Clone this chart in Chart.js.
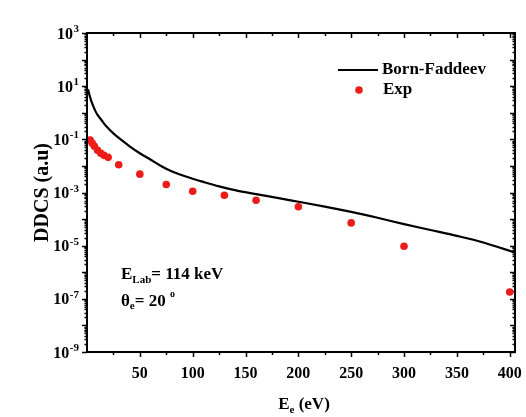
<!DOCTYPE html>
<html><head><meta charset="utf-8">
<script src="https://cdn.jsdelivr.net/npm/chart.js@4.4.1/dist/chart.umd.min.js"></script>
<style>html,body{margin:0;padding:0;background:#fff;} #wrap{width:526px;height:417px;}</style>
</head><body><div id="wrap"><canvas id="c" width="526" height="417"></canvas></div>
<script>
// Born-Faddeev theory curve
const bfEnergy = [1,2,3,4,5,6,8,10,12,14,17,20,24,28,34,40,50,60,70,80,90,100,110,125,140,160,180,200,225,250,275,300,325,350,375,405];
const bfDdcs = [7.6,5.2,3.8,2.8,2.2,1.74,1.15,0.83,0.65,0.51,0.355,0.263,0.182,0.132,0.085,0.056,0.030,0.0174,0.0100,0.0063,0.00447,0.00331,0.00251,0.0017,0.00123,0.00087,0.00063,0.00045,0.000295,0.000186,0.000112,0.0000646,0.0000389,0.0000234,0.0000132,0.0000055];
// Experimental points
const expEnergy = [3,5,7,10,13,16,20,30,50,75,100,130,160,200,250,300,400];
const expDdcs = [0.093,0.071,0.055,0.039,0.030,0.025,0.021,0.011,0.0049,0.0020,0.00112,0.00079,0.00051,0.00029,0.000072,0.0000095,0.00000018];
// Axis ticks
const xTickLabels = [50,100,150,200,250,300,350,400];
const xMinorStep = 25;
const yTickExponents = [3,1,-1,-3,-5,-7,-9];
const xRange = [0, 405];
const yRange = [1e-9, 1e3];

const FONT = '"Liberation Serif","Times New Roman",serif';
const RED = '#ee1b1b';

function toXY(xs, ys){ return xs.map((v,i)=>({x:v, y:ys[i]})); }

const decorPlugin = {
  id: 'decor',
  beforeDatasetsDraw(chart){
    const {ctx, chartArea:a, scales:{x,y}} = chart;
    ctx.save();
    ctx.strokeStyle = '#000';
    ctx.lineWidth = 1.5;
    for (let v = xMinorStep; v <= xRange[1]; v += xMinorStep) {
      const px = Math.round(x.getPixelForValue(v)) + 0.5;
      const len = (v % 50 === 0) ? 5 : 3;
      ctx.beginPath();
      ctx.moveTo(px, a.bottom); ctx.lineTo(px, a.bottom + len);
      ctx.moveTo(px, a.top); ctx.lineTo(px, a.top + len);
      ctx.stroke();
    }
    for (let e = -9; e <= 3; e++) {
      for (let m = 1; m <= 9; m++) {
        const v = m * Math.pow(10, e);
        if (v > yRange[1] * 1.0001) break;
        const py = Math.round(y.getPixelForValue(v)) + 0.5;
        const len = (m === 1) ? 5 : 2.5;
        ctx.beginPath();
        ctx.moveTo(a.left, py); ctx.lineTo(a.left - len, py);
        ctx.moveTo(a.right, py); ctx.lineTo(a.right - len, py);
        ctx.stroke();
      }
    }
    ctx.restore();
  },
  afterDatasetsDraw(chart){
    const {ctx, chartArea:a, scales:{x,y}} = chart;
    ctx.save();
    ctx.strokeStyle = '#000';
    ctx.lineWidth = 2;
    ctx.strokeRect(a.left, a.top, a.right - a.left, a.bottom - a.top);
    ctx.fillStyle = '#000';

    ctx.font = 'bold 16px ' + FONT;
    ctx.textAlign = 'center';
    ctx.textBaseline = 'middle';
    xTickLabels.forEach(v => ctx.fillText(String(v), x.getPixelForValue(v), 374));

    yTickExponents.forEach(e => {
      const py = y.getPixelForValue(Math.pow(10, e));
      const exp = (e < 0 ? '-' : '') + Math.abs(e);
      ctx.font = 'bold 11px ' + FONT;
      const we = ctx.measureText(exp).width;
      ctx.font = 'bold 16px ' + FONT;
      const wb = ctx.measureText('10').width;
      const right = a.left - 8;
      ctx.textAlign = 'left';
      ctx.textBaseline = 'alphabetic';
      ctx.fillText('10', right - we - wb - 0.5, py + 5.5);
      ctx.font = 'bold 11px ' + FONT;
      ctx.fillText(exp, right - we, py - 1);
    });

    ctx.textAlign = 'left';
    ctx.textBaseline = 'alphabetic';
    ctx.font = 'bold 17px ' + FONT;
    const wE = ctx.measureText('E').width;
    const wRest = ctx.measureText(' (eV)').width;
    ctx.font = 'bold 11px ' + FONT;
    const wSub = ctx.measureText('e').width;
    let tx = (a.left + a.right) / 2 + 3 - (wE + wSub + wRest) / 2;
    const tb = 409;
    ctx.font = 'bold 17px ' + FONT;
    ctx.fillText('E', tx, tb);
    ctx.font = 'bold 11px ' + FONT;
    ctx.fillText('e', tx + wE, tb + 4);
    ctx.font = 'bold 17px ' + FONT;
    ctx.fillText(' (eV)', tx + wE + wSub, tb);

    ctx.save();
    ctx.translate(48, (a.top + a.bottom) / 2);
    ctx.rotate(-Math.PI / 2);
    ctx.textAlign = 'center';
    ctx.textBaseline = 'alphabetic';
    ctx.font = 'bold 20px ' + FONT;
    ctx.fillText('DDCS (a.u)', 0, 0);
    ctx.restore();

    ctx.strokeStyle = '#000';
    ctx.lineWidth = 2.2;
    ctx.beginPath(); ctx.moveTo(338, 70); ctx.lineTo(378, 70); ctx.stroke();
    ctx.font = 'bold 17px ' + FONT;
    ctx.textAlign = 'left';
    ctx.textBaseline = 'middle';
    ctx.fillText('Born-Faddeev', 382, 70);
    ctx.fillStyle = RED;
    ctx.beginPath(); ctx.arc(359, 90, 3.8, 0, Math.PI * 2); ctx.fill();
    ctx.fillStyle = '#000';
    ctx.fillText('Exp', 383, 90);

    ctx.textBaseline = 'alphabetic';
    let ax = 121;
    ctx.font = 'bold 17px ' + FONT;
    ctx.fillText('E', ax, 279);
    ax += ctx.measureText('E').width;
    ctx.font = 'bold 11px ' + FONT;
    ctx.fillText('Lab', ax, 283);
    ax += ctx.measureText('Lab').width;
    ctx.font = 'bold 17px ' + FONT;
    ctx.fillText('= 114 keV', ax, 279);

    ax = 121;
    ctx.fillText('\u03B8', ax, 305.5);
    ax += ctx.measureText('\u03B8').width;
    ctx.font = 'bold 11px ' + FONT;
    ctx.fillText('e', ax, 309);
    ax += ctx.measureText('e').width;
    ctx.font = 'bold 17px ' + FONT;
    ctx.fillText('= 20 ', ax, 305.5);
    ax += ctx.measureText('= 20 ').width;
    ctx.font = 'bold 10px ' + FONT;
    ctx.fillText('o', ax, 297);
    ctx.restore();
  }
};

new Chart(document.getElementById('c'), {
  type: 'scatter',
  data: {
    datasets: [
      {
        label: 'Exp',
        data: toXY(expEnergy, expDdcs),
        showLine: false,
        pointRadius: 3.8,
        pointBackgroundColor: RED,
        pointBorderWidth: 0,
        pointBorderColor: RED,
        clip: false,
        order: 0
      },
      {
        label: 'Born-Faddeev',
        data: toXY(bfEnergy, bfDdcs),
        showLine: true,
        borderColor: '#000',
        borderWidth: 2.2,
        pointRadius: 0,
        cubicInterpolationMode: 'monotone',
        fill: false,
        order: 1
      }
    ]
  },
  options: {
    responsive: false,
    animation: false,
    devicePixelRatio: 1,
    layout: { padding: { left: 87, right: 11, top: 33, bottom: 65 } },
    plugins: { legend: { display: false }, tooltip: { enabled: false } },
    scales: {
      x: { type: 'linear', min: xRange[0], max: xRange[1], display: false },
      y: { type: 'logarithmic', min: yRange[0], max: yRange[1], display: false }
    }
  },
  plugins: [decorPlugin]
});
</script>
</body></html>
